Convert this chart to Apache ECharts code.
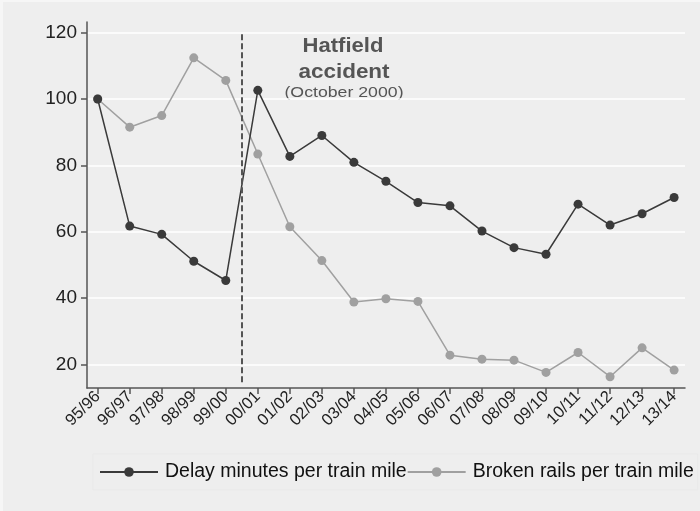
<!DOCTYPE html>
<html>
<head>
<meta charset="utf-8">
<script src="https://cdn.jsdelivr.net/npm/echarts@6/dist/echarts.min.js"></script>
<style>
  html, body { margin: 0; padding: 0; background: #f6f6f6; }
  #chart { width: 697px; height: 509px; margin: 2px 0 0 3px; }
</style>
</head>
<body>
<div id="chart"></div>
<script>
// financial years
const categories = ['95/96', '96/97', '97/98', '98/99', '99/00', '00/01', '01/02', '02/03', '03/04', '04/05',
  '05/06', '06/07', '07/08', '08/09', '09/10', '10/11', '11/12', '12/13', '13/14']
// index, 95/96 = 100
const delayMinutes = [100, 61.7, 59.2, 51.1, 45.3, 102.6, 82.7, 89.0, 80.9, 75.2,
  68.8, 67.8, 60.2, 55.2, 53.2, 68.3, 62.0, 65.4, 70.3]
const brokenRails = [100, 91.5, 95.0, 112.4, 105.6, 83.4, 61.5, 51.3, 38.8, 39.8,
  39.0, 22.8, 21.6, 21.3, 17.6, 23.6, 16.3, 25.0, 18.3]
const yTicks = [20, 40, 60, 80, 100, 120]
const accidentPos = 4.5

const chart = echarts.init(document.getElementById('chart'))
const xIdx = categories.map((c, i) => i)

const option = {
  backgroundColor: '#eeeeee',
  animation: false,
  textStyle: { fontFamily: 'Liberation Sans, Arial, sans-serif' },
  grid: { left: 84, right: 15, top: 20, bottom: 123 },
  xAxis: {
    type: 'value',
    min: -0.334,
    max: 18.34,
    axisLine: { show: true, onZero: false, lineStyle: { color: '#555', width: 1.5 } },
    axisTick: { show: true, customValues: xIdx, length: 6, lineStyle: { color: '#555', width: 1.5 } },
    axisLabel: {
      customValues: xIdx,
      rotate: 45,
      fontSize: 16.5,
      color: '#222',
      margin: 6,
      formatter: v => categories[Math.round(v)]
    },
    splitLine: { show: false }
  },
  yAxis: {
    type: 'value',
    min: 12.9,
    max: 123.2,
    axisLine: { show: true, onZero: false, lineStyle: { color: '#555', width: 1.5 } },
    axisTick: { show: true, customValues: yTicks, length: 6, lineStyle: { color: '#555', width: 1.5 } },
    axisLabel: { customValues: yTicks, fontSize: 19, color: '#222', margin: 10 },
    splitLine: { show: true, lineStyle: { color: '#ffffff', width: 1.5 } }
  },
  legend: {
    bottom: 21,
    left: 90,
    right: 0,
    itemWidth: 58,
    itemHeight: 12,
    itemGap: 0,
    padding: [8, 4, 8, 6],
    borderColor: '#e9e9e9',
    borderWidth: 1,
    textStyle: { fontSize: 19.5, color: '#111', padding: [0, 0, 0, 2] },
    data: ['Delay minutes per train mile', 'Broken rails per train mile']
  },
  // annotation for the Hatfield accident
  graphic: [
    {
      type: 'text', x: 340, y: 44, scaleX: 1.05,
      style: { text: 'Hatfield', font: 'bold 21px Liberation Sans, Arial', fill: '#555', align: 'center', verticalAlign: 'middle' }
    },
    {
      type: 'text', x: 341, y: 70, scaleX: 1.07,
      style: { text: 'accident', font: 'bold 21px Liberation Sans, Arial', fill: '#555', align: 'center', verticalAlign: 'middle' }
    },
    {
      type: 'text', x: 341, y: 91, scaleX: 1.18,
      style: { text: '(October 2000)', font: '15px Liberation Sans, Arial', fill: '#555', align: 'center', verticalAlign: 'middle' }
    }
  ],
  series: [
    {
      name: 'Delay minutes per train mile',
      type: 'line',
      data: delayMinutes.map((v, i) => [i, v]),
      symbol: 'circle',
      symbolSize: 9,
      lineStyle: { color: '#3a3a3a', width: 1.5 },
      itemStyle: { color: '#3a3a3a' },
      z: 3,
      markLine: {
        silent: true,
        symbol: 'none',
        label: { show: false },
        lineStyle: { color: '#555', width: 2, type: [6, 3] },
        data: [[{ coord: [accidentPos, 119.5] }, { coord: [accidentPos, 14] }]]
      }
    },
    {
      name: 'Broken rails per train mile',
      type: 'line',
      data: brokenRails.map((v, i) => [i, v]),
      symbol: 'circle',
      symbolSize: 9,
      lineStyle: { color: '#a0a0a0', width: 1.5 },
      itemStyle: { color: '#a0a0a0' },
      z: 2
    }
  ]
}

chart.setOption(option)
</script>
</body>
</html>
